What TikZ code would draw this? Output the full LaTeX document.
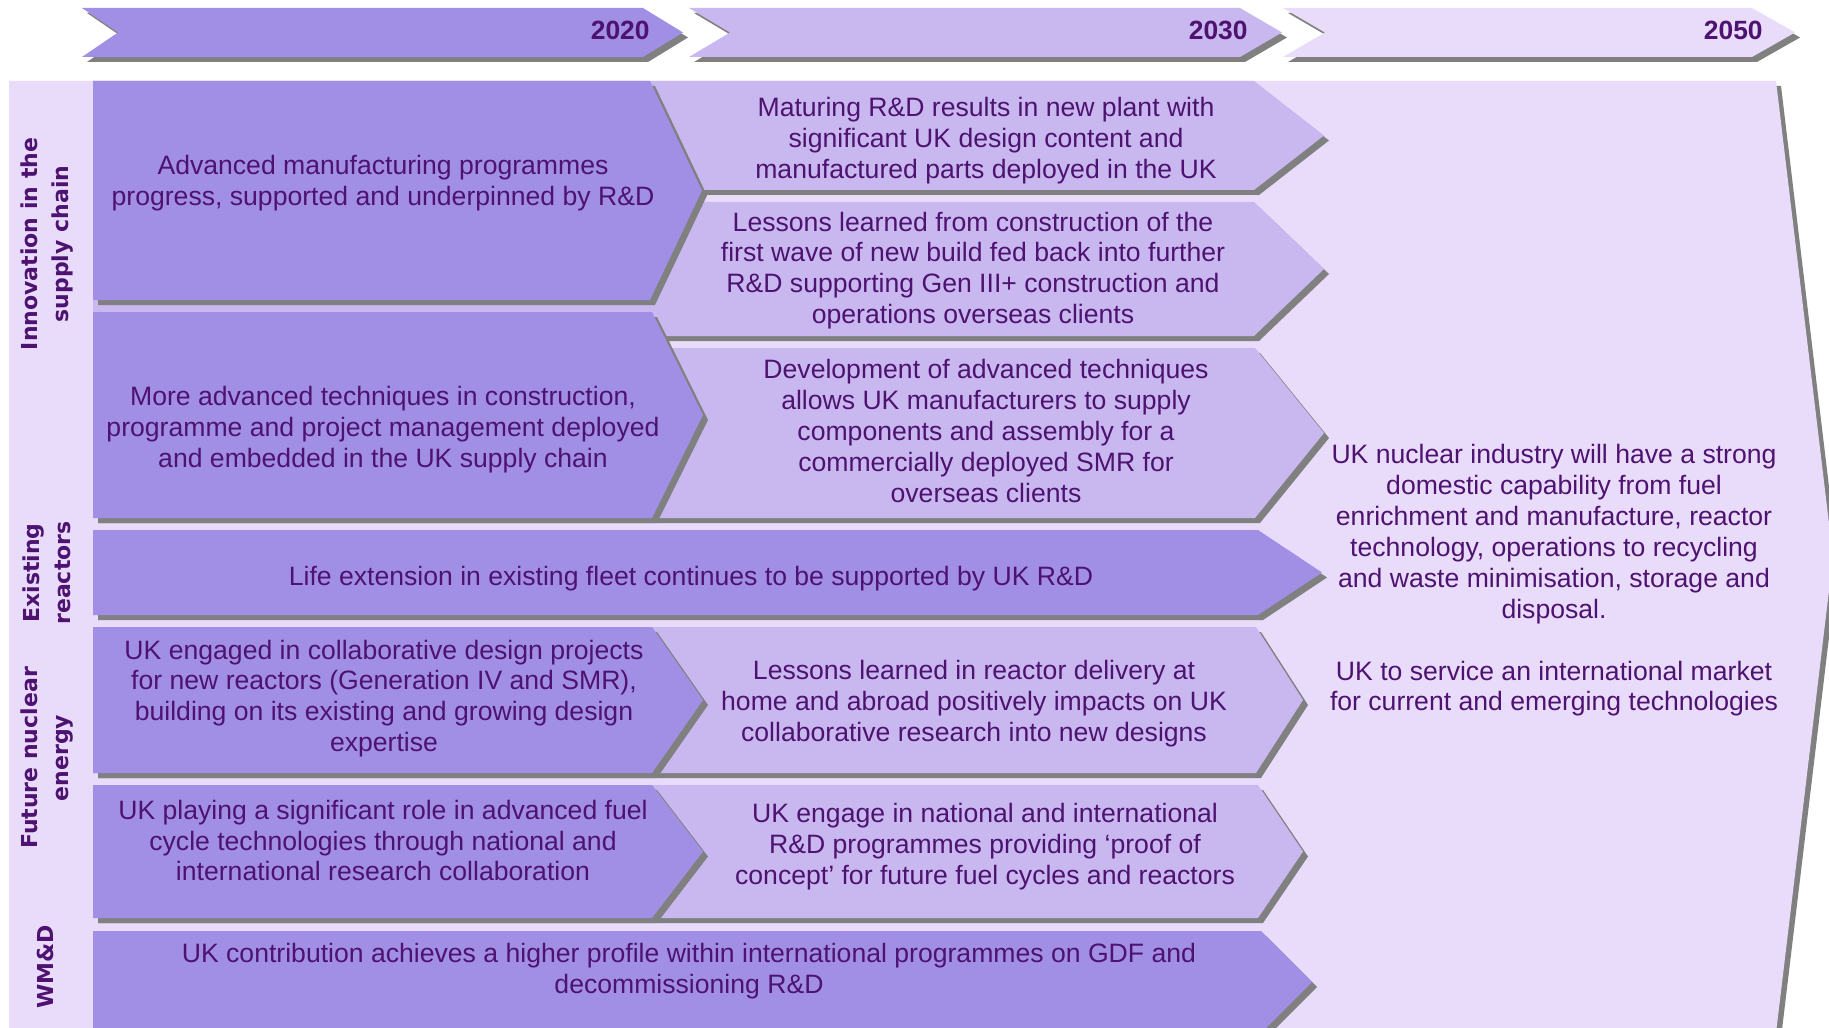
\documentclass[tikz,border=0pt]{standalone}
\usepackage{fontspec}
\setmainfont{Liberation Sans}
\newfontfamily\sidefont{DejaVu Sans}
\usetikzlibrary{shadows}
\definecolor{rdark}{RGB}{161,143,230}
\definecolor{rlight}{RGB}{201,184,240}
\definecolor{rpale}{RGB}{233,220,251}
\definecolor{rtext}{RGB}{78,18,112}
\definecolor{rshadow}{RGB}{128,128,128}

\begin{document}
\begin{tikzpicture}[x=0.5pt,y=-0.5pt,
    dropped/.style={drop shadow={shadow xshift=2.5pt,shadow yshift=-2.5pt,fill=rshadow,opacity=1}},
    darkblk/.style={fill=rdark,dropped},
    lightblk/.style={fill=rlight,dropped},
    paleblk/.style={fill=rpale,dropped},
    txt/.style={text=rtext,align=center,inner sep=0pt,font=\fontsize{13.3pt}{15.45pt}\selectfont},
    lbl/.style={text=rtext,align=center,inner sep=0pt,rotate=90,font=\sidefont\bfseries\fontsize{11pt}{15.75pt}\selectfont},
    yr/.style={text=rtext,inner sep=0pt,anchor=east,font=\bfseries\fontsize{13.2pt}{15pt}\selectfont}]
  \path[use as bounding box,fill=white] (0,0) rectangle (1829,1027);
  \clip (0,0) rectangle (1829,1027);

  \path[paleblk] (9,81) -- (1776,81) -- (1833,557) -- (1776,1033) -- (9,1033) -- cycle;

  \path[darkblk] (82,8) -- (643,8) -- (683,32.5) -- (643,57) -- (82,57) -- (118,32.5) -- cycle;
  \path[lightblk] (689,8) -- (1240,8) -- (1282,32.5) -- (1240,57) -- (689,57) -- (730,32.5) -- cycle;
  \path[paleblk] (1283,8) -- (1752,8) -- (1795,32.5) -- (1752,57) -- (1283,57) -- (1325,32.5) -- cycle;
  \node[yr] (y2020) at (650,30.5) {2020};
  \node[yr] (y2030) at (1248,30.5) {2030};
  \node[yr] (y2050) at (1763,30.5) {2050};

  \path[lightblk] (93,81) -- (1254,81) -- (1324,135.5) -- (1254,190) -- (93,190) -- cycle;
  \path[lightblk] (93,202) -- (1254,202) -- (1324,269) -- (1254,336) -- (93,336) -- cycle;
  \path[lightblk] (93,348) -- (1255,348) -- (1324,433) -- (1255,518) -- (93,518) -- cycle;
  \path[lightblk] (93,627) -- (1256,627) -- (1303,700) -- (1256,773) -- (93,773) -- cycle;
  \path[lightblk] (93,785) -- (1258,785) -- (1303,851.5) -- (1258,918) -- (93,918) -- cycle;

  \path[darkblk] (93,81) -- (650,81) -- (702,190.5) -- (650,300) -- (93,300) -- cycle;
  \path[darkblk] (93,312) -- (652,312) -- (703,415) -- (652,518) -- (93,518) -- cycle;
  \path[darkblk] (93,530) -- (1258,530) -- (1322,572.5) -- (1258,615) -- (93,615) -- cycle;
  \path[darkblk] (93,627) -- (652,627) -- (703,700) -- (652,773) -- (93,773) -- cycle;
  \path[darkblk] (93,785) -- (652,785) -- (703,851.5) -- (652,918) -- (93,918) -- cycle;
  \path[darkblk] (93,931) -- (1261,931) -- (1312,982) -- (1261,1033) -- (93,1033) -- cycle;

  \node[lbl] (innov) at (47,244) {Innovation in the\\supply chain};
  \node[lbl] (exist) at (47,573) {Existing\\reactors};
  \node[lbl] (future) at (47,758) {Future nuclear\\energy};
  \node[lbl] (wmd) at (45,967) {WM\&D};

  \node[txt] (manuf) at (383,183.5) {Advanced manufacturing programmes\\progress, supported and underpinned by R\&D};
  \node[txt] (maturing) at (986,140.5) {Maturing R\&D results in new plant with\\significant UK design content and\\manufactured parts deployed in the UK};
  \node[txt] (lessons) at (973,270.5) {Lessons learned from construction of the\\first wave of new build fed back into further\\R\&D supporting Gen III+ construction and\\operations overseas clients};
  \node[txt] (techniques) at (383,429.5) {More advanced techniques in construction,\\programme and project management deployed\\and embedded in the UK supply chain};
  \node[txt] (develop) at (986,431) {Development of advanced techniques\\allows UK manufacturers to supply\\components and assembly for a\\commercially deployed SMR for\\overseas clients};
  \node[txt] (life) at (691,578.5) {Life extension in existing fleet continues to be supported by UK R\&D};
  \node[txt] (collab) at (384,698.5) {UK engaged in collaborative design projects\\for new reactors (Generation IV and SMR),\\building on its existing and growing design\\expertise};
  \node[txt] (delivery) at (974,703.5) {Lessons learned in reactor delivery at\\home and abroad positively impacts on UK\\collaborative research into new designs};
  \node[txt] (fuel) at (383,840.5) {UK playing a significant role in advanced fuel\\cycle technologies through national and\\international research collaboration};
  \node[txt] (proof) at (985,846.5) {UK engage in national and international\\R\&D programmes providing ‘proof of\\concept’ for future fuel cycles and reactors};
  \node[txt] (gdf) at (689,971.5) {UK contribution achieves a higher profile within international programmes on GDF and\\decommissioning R\&D};
  \node[txt] (goal) at (1554,580.5) {UK nuclear industry will have a strong\\domestic capability from fuel\\enrichment and manufacture, reactor\\technology, operations to recycling\\and waste minimisation, storage and\\disposal.\\[15.45pt]UK to service an international market\\for current and emerging technologies};
\end{tikzpicture}
\end{document}
